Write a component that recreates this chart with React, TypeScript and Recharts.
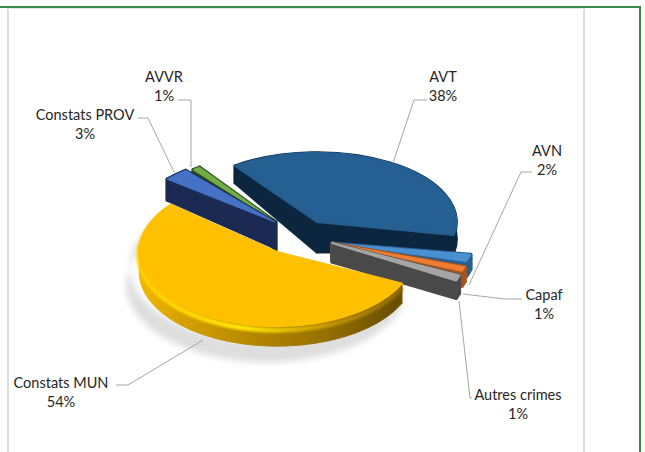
import React from 'react';
import { PieChart, Pie } from 'recharts';

const categories = ['AVT', 'AVN', 'Capaf', 'Autres crimes', 'Constats MUN', 'Constats PROV', 'AVVR'];
const shares = [38, 2, 1, 1, 54, 3, 1];
const topColors = ['#255E91', '#4A90D0', '#ED7D31', '#A5A5A5', '#FFC000', '#4472C4', '#70AD47'];
const wallColors = ['#0E2841', '#2A5F90', '#A5561E', '#4A4A4A', '#7A5C00', '#1A2B52', '#2C4A1C'];

// painter's order, back to front
const drawOrder = ['AVVR', 'Constats PROV', 'AVT', 'AVN', 'Capaf', 'Autres crimes', 'Constats MUN'];

const data = categories.map((name, i) => ({ name, value: shares[i], top: topColors[i], wall: wallColors[i] }));

// explosion offset from the pie centre, squash of the tilted disc, side depth
const tilt: Record<string, { dx: number; dy: number; kx: number; ky: number; apexDepth: number; rimDepth: number }> = {
  AVT: { dx: 17, dy: -18, kx: 0.995, ky: 0.495, apexDepth: 30, rimDepth: 17 },
  AVN: { dx: 32, dy: 3, kx: 1.01, ky: 0.43, apexDepth: 18, rimDepth: 15 },
  Capaf: { dx: 32, dy: 3, kx: 1.0, ky: 0.55, apexDepth: 18, rimDepth: 15 },
  'Autres crimes': { dx: 32, dy: 3, kx: 0.98, ky: 0.63, apexDepth: 19, rimDepth: 18 },
  'Constats MUN': { dx: -23, dy: 12, kx: 0.985, ky: 0.53, apexDepth: 20, rimDepth: 20 },
  'Constats PROV': { dx: -25, dy: -18, kx: 1, ky: 0.48, apexDepth: 26, rimDepth: 21 },
  AVVR: { dx: -24, dy: -18, kx: 0.93, ky: 0.485, apexDepth: 28, rimDepth: 10 },
};

const labelLayout: Record<string, { x: number; y: number; lines: [number, number][] }> = {
  AVT: { x: 443, y: 77, lines: [[427, 100], [414, 100], [393, 163]] },
  AVN: { x: 547, y: 151, lines: [[532, 172], [521, 172], [469, 285]] },
  Capaf: { x: 544, y: 295, lines: [[522, 299], [505, 299], [463, 294]] },
  'Autres crimes': { x: 518, y: 395, lines: [[472, 398], [470, 398], [459, 301]] },
  'Constats MUN': { x: 61, y: 383, lines: [[116, 385], [128, 385], [203, 340]] },
  'Constats PROV': { x: 85, y: 115, lines: [[138, 118], [148, 118], [174, 172]] },
  AVVR: { x: 164, y: 77, lines: [[178, 100], [191, 100], [191, 167]] },
};

const RAD = Math.PI / 180;

function Slice3D(props: any) {
  const { cx, cy, outerRadius, startAngle, endAngle, name, top, wall } = props;
  const t = tilt[name];
  const rx = outerRadius * t.kx;
  const ry = outerRadius * t.ky;
  const ox = cx + t.dx;
  const oy = cy + t.dy;
  const pt = (a: number, d = 0) => `${ox + rx * Math.cos(a * RAD)} ${oy - ry * Math.sin(a * RAD) + d}`;
  const large = Math.abs(startAngle - endAngle) > 180 ? 1 : 0;
  const rim = t.rimDepth;
  const apex = `${ox} ${oy}`;
  const apexLow = `${ox} ${oy + t.apexDepth}`;
  const topPath = `M${apex} L${pt(startAngle)} A${rx} ${ry} 0 ${large} 1 ${pt(endAngle)} Z`;
  const outerPath = `M${pt(startAngle)} A${rx} ${ry} 0 ${large} 1 ${pt(endAngle)} L${pt(endAngle, rim)} A${rx} ${ry} 0 ${large} 0 ${pt(startAngle, rim)} Z`;
  const isMun = name === 'Constats MUN';
  const edge = isMun ? 1 : 3;
  const topEdge = name === 'AVT' || name === 'Autres crimes' || isMun ? 2 : 1;
  return (
    <g>
      {isMun && (
        <path
          d={`M${pt(startAngle, 8)} A${rx + 2} ${ry + 2} 0 ${large} 1 ${pt(endAngle, 8)} L${pt(endAngle, rim + 4)} A${rx + 3} ${ry + 3} 0 ${large} 0 ${pt(startAngle, rim + 4)} Z`}
          fill="#8a8a8a"
          opacity={0.28}
          filter="url(#softShadow)"
        />
      )}
      <g filter="url(#softEdge)">
        <path d={`M${apex} L${pt(startAngle)} L${pt(startAngle, rim)} L${apexLow} Z`} fill={wall} stroke={wall} strokeWidth={edge} strokeLinejoin="round" />
        <path d={`M${apex} L${pt(endAngle)} L${pt(endAngle, rim)} L${apexLow} Z`} fill={wall} stroke={wall} strokeWidth={edge} strokeLinejoin="round" />
        <path d={outerPath} fill={isMun ? 'url(#munWall)' : wall} stroke={isMun ? 'url(#munWall)' : wall} strokeWidth={edge} strokeLinejoin="round" />
        {isMun && (
          <path
            d={`M${pt(startAngle, 4)} A${rx} ${ry} 0 ${large} 1 ${pt(endAngle, 4)}`}
            fill="none"
            stroke="url(#munBevel)"
            strokeWidth={5}
            filter="url(#softBevel)"
          />
        )}
        <path d={topPath} fill={top} stroke={top} strokeWidth={topEdge} strokeLinejoin="round" />
      </g>
    </g>
  );
}

function renderLabel(props: any) {
  const layout = labelLayout[props.name];
  const pct = `${props.value}%`;
  return (
    <g key={props.name}>
      <polyline
        points={layout.lines.map((p) => p.join(',')).join(' ')}
        fill="none"
        stroke="#A6A6A6"
        strokeWidth={1}
      />
      <text x={layout.x} y={layout.y + 5} textAnchor="middle" fontFamily="Lato" fontSize={14.5} fill="#262626">
        {props.name}
      </text>
      <text x={layout.x} y={layout.y + 24} textAnchor="middle" fontFamily="Lato" fontSize={14.5} fill="#262626">
        {pct}
      </text>
    </g>
  );
}

const pieProps = {
  data,
  dataKey: 'value',
  nameKey: 'name',
  cx: 300,
  cy: 240,
  outerRadius: 140,
  startAngle: 126,
  endAngle: -234,
  paddingAngle: 0,
  stroke: 'none',
  isAnimationActive: false,
};

export default function App() {
  return (
    <div style={{ position: 'absolute', left: 0, top: 0, width: 645, height: 452, background: '#fff', overflow: 'hidden' }}>
      <div style={{ position: 'absolute', left: 0, top: 6, width: 641, height: 2, background: '#3B8A4B' }} />
      <div style={{ position: 'absolute', left: 639, top: 6, width: 2, height: 446, background: '#3B8A4B' }} />
      <div style={{ position: 'absolute', left: 7, top: 8, width: 574, height: 444, borderLeft: '2px solid #DEDEDE', borderRight: '2px solid #DEDEDE', borderTop: '1px solid #E4E4E4' }} />
      <svg width={0} height={0} style={{ position: 'absolute' }}>
        <defs>
          <filter id="softEdge" x="-5%" y="-5%" width="110%" height="110%">
            <feGaussianBlur stdDeviation={0.6} />
          </filter>
          <filter id="softBevel" x="-5%" y="-10%" width="110%" height="120%">
            <feGaussianBlur stdDeviation={1.2} />
          </filter>
          <filter id="softShadow" x="-10%" y="-20%" width="120%" height="140%">
            <feGaussianBlur stdDeviation={3} />
          </filter>
          <linearGradient id="munWall" gradientUnits="userSpaceOnUse" x1={138} y1={0} x2={405} y2={0}>
            <stop offset="0" stopColor="#F5B800" />
            <stop offset="0.15" stopColor="#D9A200" />
            <stop offset="0.45" stopColor="#B28500" />
            <stop offset="0.7" stopColor="#967000" />
            <stop offset="0.95" stopColor="#6B5000" />
          </linearGradient>
          <linearGradient id="munBevel" gradientUnits="userSpaceOnUse" x1={138} y1={0} x2={405} y2={0}>
            <stop offset="0" stopColor="#FFCF00" />
            <stop offset="0.4" stopColor="#FFE600" />
            <stop offset="0.7" stopColor="#C79900" />
            <stop offset="1" stopColor="#8A6800" />
          </linearGradient>
        </defs>
      </svg>
      <div style={{ position: 'absolute', left: 0, top: 0 }}>
        <PieChart width={645} height={452} margin={{ top: 0, right: 0, bottom: 0, left: 0 }}>
          {drawOrder.map((target) => (
            <Pie
              key={target}
              {...pieProps}
              shape={(p: any) => (p.name === target ? <Slice3D {...p} /> : <g />)}
            />
          ))}
          <Pie {...pieProps} fill="none" shape={() => <g />} label={renderLabel} labelLine={false} />
        </PieChart>
      </div>
    </div>
  );
}
